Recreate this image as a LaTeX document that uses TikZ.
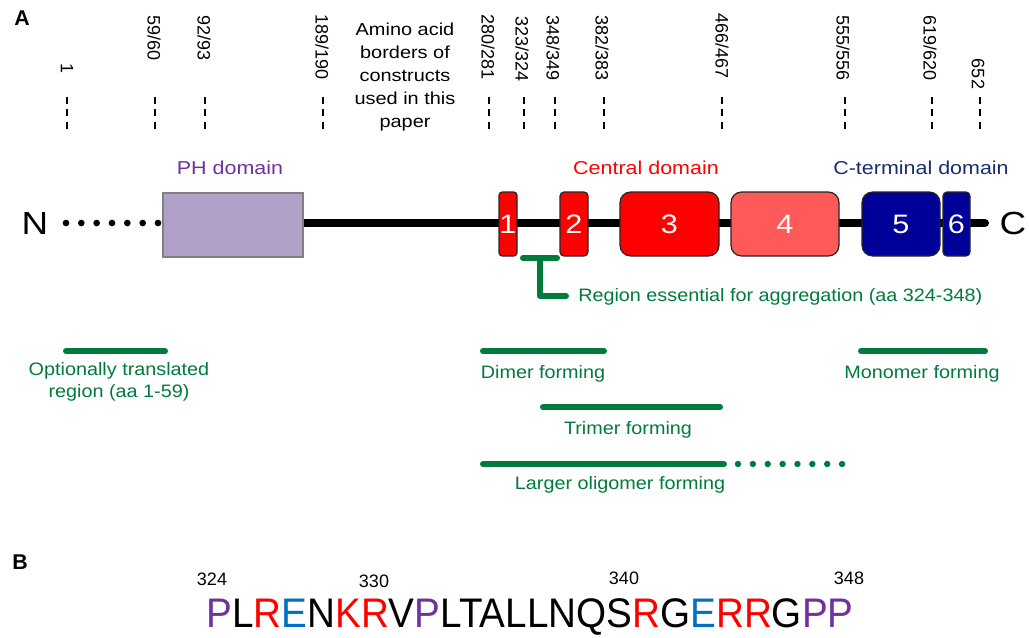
\documentclass[tikz,border=0pt]{standalone}
\usepackage{fontspec}
\setmainfont{Liberation Sans}
\usepackage{graphicx}
\usetikzlibrary{backgrounds}
\definecolor{grn}{RGB}{0,122,61}
\definecolor{phfill}{RGB}{177,160,199}
\definecolor{phtxt}{RGB}{112,48,160}
\definecolor{navy}{RGB}{25,45,110}
\definecolor{dblue}{RGB}{0,0,153}
\definecolor{lred}{RGB}{255,90,90}
\definecolor{sblue}{RGB}{0,112,192}
\newcommand\hs[1]{\scalebox{1.15}[1]{#1}}
\newcommand\cP{\textcolor{phtxt}{P}}
\newcommand\cR{\textcolor{red}{R}}
\newcommand\cE{\textcolor{sblue}{E}}
\newcommand\cK{\textcolor{red}{K}}
\begin{document}
\begin{tikzpicture}[x=0.75pt,y=-0.75pt,
  tick/.style={rotate=-90,font=\fontsize{13.5}{16}\selectfont,inner sep=0pt},
  dashl/.style={dash pattern=on 5.25pt off 4pt,line width=1.1pt},
  lbl/.style={font=\fontsize{14}{17}\selectfont,inner sep=0pt},
  glbl/.style={font=\fontsize{13.5}{16.5}\selectfont,text=grn,inner sep=0pt,align=center},
  dombox/.style={draw=black!85,line width=0.9pt,minimum height=48pt,inner sep=0pt,
     text=white,font=\fontsize{20}{20}\selectfont},
  redbox/.style={dombox,fill=red},
  bar/.style={grn,line width=4.5pt,line cap=round},
  panel/.style={font=\fontsize{16}{18}\selectfont\bfseries,inner sep=0pt}
]
\useasboundingbox (0,0) rectangle (1029,637);

% panel labels
\node[panel] (pA) at (22,18) {A};
\node[panel] (pB) at (20,562) {B};

% amino acid border labels
\node[tick] (t1) at (67,68) {1};
\node[tick] (t59) at (154,38) {59/60};
\node[tick] (t92) at (204,38) {92/93};
\node[tick] (t189) at (322,47) {189/190};
\node[tick] (t280) at (488,47) {280/281};
\node[tick] (t323) at (522,49) {323/324};
\node[tick] (t348) at (553,48) {348/349};
\node[tick] (t382) at (602,48) {382/383};
\node[tick] (t466) at (722,46) {466/467};
\node[tick] (t555) at (843,48) {555/556};
\node[tick] (t619) at (930,48) {619/620};
\node[tick] (t652) at (978,74) {652};

\foreach \x/\n in {67/d1,155/d59,205/d92,323/d189,489/d280,524/d323,555/d348,604/d382,722/d466,845/d555,932/d619,980/d652}{
  \coordinate (\n a) at (\x,97);
  \coordinate (\n b) at (\x,130);
  \draw[dashl] (\n a) -- (\n b);
}

\node[font=\fontsize{13}{17.25}\selectfont,align=center,inner sep=0pt] (aminotxt) at (405,77)
  {\hs{Amino acid}\\\hs{borders of}\\\hs{constructs}\\\hs{used in this}\\\hs{paper}};

% domain labels
\node[lbl,text=phtxt] (phl) at (230,168) {\hs{PH domain}};
\node[lbl,text=red] (cenl) at (646,168) {\hs{Central domain}};
\node[lbl,text=navy] (ctl) at (921,168) {\hs{C-terminal domain}};

% termini
\node[font=\fontsize{24}{26}\selectfont,inner sep=0pt] (N) at (35,223) {\hs{N}};
\node[font=\fontsize{24}{26}\selectfont,inner sep=0pt] (C) at (1013,223) {\hs{C}};

% domains
\node[draw=black!50,fill=phfill,line width=0.8pt,minimum width=105pt,minimum height=48pt,inner sep=0pt] (ph) at (233,225) {};
\node[redbox,rounded corners=2.5pt,minimum width=13.5pt] (b1) at (508,224) {\hs{1}};
\node[redbox,rounded corners=3pt,minimum width=21pt] (b2) at (574,224) {\hs{2}};
\node[redbox,rounded corners=8pt,minimum width=74.25pt] (b3) at (669.5,224) {\hs{3}};
\node[dombox,fill=lred,rounded corners=8pt,minimum width=81pt] (b4) at (785,224) {\hs{4}};
\node[dombox,fill=dblue,rounded corners=8pt,minimum width=58.5pt] (b5) at (901,224) {\hs{5}};
\node[dombox,fill=dblue,rounded corners=3pt,minimum width=20.25pt] (b6) at (956.5,224) {\hs{6}};

\coordinate (nstart) at (66,223);
\coordinate (cend) at (985,223);
\begin{scope}[on background layer]
  \draw[line width=6pt,line cap=round] (ph.east |- cend) -- (cend);
  \draw[line width=5pt,line cap=round,dash pattern=on 0pt off 11.5pt] (nstart) -- (ph.west |- nstart);
\end{scope}

% region essential bracket
\coordinate (brl) at (523,258);
\coordinate (brr) at (557,258);
\coordinate (brt) at (540,258);
\coordinate (brc) at (540,296);
\coordinate (bre) at (566,296);
\draw[bar] (brl) -- (brr);
\draw[grn,line width=4.5pt,line cap=round,line join=round] (brt) -- (brc) -- (bre);
\node[glbl,anchor=west] (regl) at (578,297) {\scalebox{1.1}[1]{Region essential for aggregation (aa 324-348)}};

% construct bars
\coordinate (o1) at (66,351); \coordinate (o2) at (165,351);
\draw[bar] (o1) -- (o2);
\node[glbl] (optl) at (119,382) {\scalebox{1.1}[1]{Optionally translated}\\\scalebox{1.1}[1]{region (aa 1-59)}};

\coordinate (di1) at (483,351); \coordinate (di2) at (604,351);
\draw[bar] (di1) -- (di2);
\node[glbl] (dil) at (543,374) {\scalebox{1.1}[1]{Dimer forming}};

\coordinate (mo1) at (861,351); \coordinate (mo2) at (985,351);
\draw[bar] (mo1) -- (mo2);
\node[glbl] (mol) at (922,374) {\scalebox{1.1}[1]{Monomer forming}};

\coordinate (tr1) at (543,407); \coordinate (tr2) at (720,407);
\draw[bar] (tr1) -- (tr2);
\node[glbl] (trl) at (628,430) {\scalebox{1.1}[1]{Trimer forming}};

\coordinate (la1) at (483,464); \coordinate (la2) at (724,464);
\coordinate (la3) at (738,464); \coordinate (la4) at (846,464);
\draw[bar] (la1) -- (la2);
\draw[grn,line width=4.8pt,line cap=round,dash pattern=on 0pt off 11.15pt] (la3) -- (la4);
\node[glbl] (lal) at (620,485) {\scalebox{1.1}[1]{Larger oligomer forming}};

% panel B
\node[font=\fontsize{13.5}{16}\selectfont,inner sep=0pt] (n324) at (212,579) {324};
\node[font=\fontsize{13.5}{16}\selectfont,inner sep=0pt] (n330) at (374,581) {330};
\node[font=\fontsize{13.5}{16}\selectfont,inner sep=0pt] (n340) at (624,578) {340};
\node[font=\fontsize{13.5}{16}\selectfont,inner sep=0pt] (n348) at (849,578) {348};
\node[font=\fontsize{31}{32}\selectfont,inner sep=0pt] (seq) at (530,617)
  {\scalebox{0.935}[1]{\cP L\cR\cE N\cK\cR V\cP LTALLNQS\cR G\cE\cR\cR G\cP\cP}};
\end{tikzpicture}
\end{document}
